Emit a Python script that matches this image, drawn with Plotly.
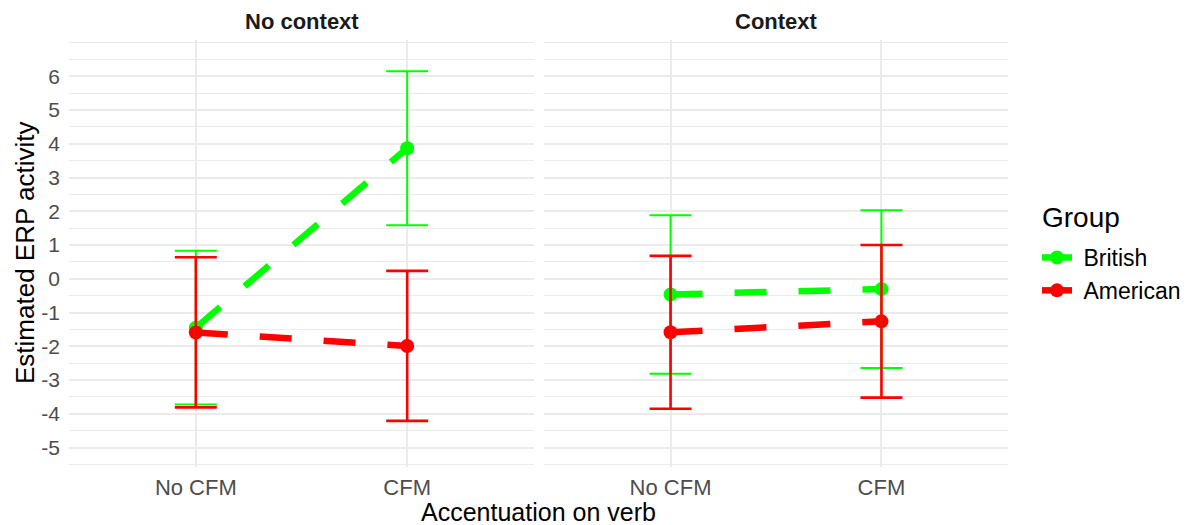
import plotly.graph_objects as go

# ---- data ----
panels = ["No context", "Context"]
accentuation = ["No CFM", "CFM"]
groups = ["British", "American"]

british_no_context = [-1.45, 3.87]
british_no_context_lo = [-3.72, 1.59]
british_no_context_hi = [0.83, 6.15]

american_no_context = [-1.59, -1.99]
american_no_context_lo = [-3.81, -4.21]
american_no_context_hi = [0.64, 0.235]

british_context = [-0.465, -0.305]
british_context_lo = [-2.81, -2.64]
british_context_hi = [1.88, 2.03]

american_context = [-1.585, -1.26]
american_context_lo = [-3.85, -3.52]
american_context_hi = [0.68, 1.0]

y_ticks = [-5, -4, -3, -2, -1, 0, 1, 2, 3, 4, 5, 6]
y_ticklabels = [str(v) for v in y_ticks]

colors = {"British": "#00FF00", "American": "#FF0000"}
err_thickness = {"British": 2.0, "American": 2.6}
FONT = "Liberation Sans"

data = {
    ("No context", "British"): (british_no_context, british_no_context_lo, british_no_context_hi),
    ("No context", "American"): (american_no_context, american_no_context_lo, american_no_context_hi),
    ("Context", "British"): (british_context, british_context_lo, british_context_hi),
    ("Context", "American"): (american_context, american_context_lo, american_context_hi),
}

fig = go.Figure()
axes = {"No context": ("x", "y"), "Context": ("x2", "y2")}

for p in panels:
    xa, ya = axes[p]
    for g in groups:
        est, lo, hi = data[(p, g)]
        fig.add_trace(go.Scatter(
            x=accentuation, y=est, mode="lines+markers", name="\u00a0" + g,
            legendgroup=g, showlegend=(p == "No context"),
            line=dict(color=colors[g], width=6.5, dash="32px,32px"),
            marker=dict(color=colors[g], size=14),
            xaxis=xa, yaxis=ya, hoverinfo="skip",
        ))
    for g in groups:
        est, lo, hi = data[(p, g)]
        fig.add_trace(go.Scatter(
            x=accentuation, y=est, mode="markers", showlegend=False,
            marker=dict(color="rgba(0,0,0,0)", size=1),
            error_y=dict(type="data", symmetric=False,
                         array=[h - e for h, e in zip(hi, est)],
                         arrayminus=[e - l for e, l in zip(est, lo)],
                         color=colors[g], thickness=err_thickness[g], width=21),
            xaxis=xa, yaxis=ya, hoverinfo="skip",
        ))

grid_major = "#EBEBEB"
yrange = [-5.575, 7.075]
W, H = 1201, 525
L, R, T, B = 69, 193, 40, 58
pw = W - L - R
ph = H - T - B
d1 = [0, (534 - L) / pw]
d2 = [(544 - L) / pw, 1]

def px_x(px):
    return (px - L) / pw

def px_y(py):
    return (H - B - py) / ph

xcommon = dict(type="category", categoryorder="array", categoryarray=accentuation,
               range=[-0.6, 1.6], showgrid=True, gridcolor=grid_major, gridwidth=1.8,
               zeroline=False, showline=False, ticks="", ticklabelstandoff=5,
               tickfont=dict(family=FONT, size=22, color="#4D4D4D"))
ycommon = dict(range=yrange, tickvals=y_ticks, ticktext=y_ticklabels,
               showgrid=True, gridcolor=grid_major, gridwidth=1.8,
               minor=dict(dtick=0.5, tick0=0, showgrid=True, gridcolor=grid_major, gridwidth=1),
               zeroline=False, showline=False, ticks="",
               tickfont=dict(family=FONT, size=21, color="#4D4D4D"))

fig.update_layout(
    width=W, height=H,
    margin=dict(l=L, r=R, t=T, b=B, autoexpand=False),
    paper_bgcolor="white", plot_bgcolor="white",
    font=dict(family=FONT),
    xaxis=dict(domain=d1, anchor="y", **xcommon),
    xaxis2=dict(domain=d2, anchor="y2", **xcommon),
    yaxis=dict(anchor="x", ticklabelstandoff=8, **ycommon),
    yaxis2=dict(anchor="x2", showticklabels=False, matches="y", **ycommon),
    legend=dict(
        x=px_x(1037), xanchor="left", y=px_y(236), yanchor="top",
        font=dict(family=FONT, size=23, color="black"),
        bgcolor="rgba(0,0,0,0)", tracegroupgap=0,
    ),
    showlegend=True,
)

annotations = [
    dict(text="<b>No context</b>", x=(d1[0] + d1[1]) / 2, y=px_y(22),
         xref="paper", yref="paper", showarrow=False, xanchor="center", yanchor="middle",
         font=dict(family=FONT, size=22, color="#1A1A1A")),
    dict(text="<b>Context</b>", x=(d2[0] + d2[1]) / 2, y=px_y(22),
         xref="paper", yref="paper", showarrow=False, xanchor="center", yanchor="middle",
         font=dict(family=FONT, size=22, color="#1A1A1A")),
    dict(text="Accentuation on verb", x=0.5, y=px_y(512),
         xref="paper", yref="paper", showarrow=False, xanchor="center", yanchor="middle",
         font=dict(family=FONT, size=25, color="black")),
    dict(text="Estimated ERP activity", x=px_x(25), y=px_y(253),
         xref="paper", yref="paper", showarrow=False, xanchor="center", yanchor="middle",
         textangle=-90, font=dict(family=FONT, size=26, color="black")),
    dict(text="Group", x=px_x(1040), y=px_y(217),
         xref="paper", yref="paper", showarrow=False, xanchor="left", yanchor="middle",
         font=dict(family=FONT, size=28, color="black")),
]
fig.update_layout(annotations=annotations)

fig.write_html("out.html")
